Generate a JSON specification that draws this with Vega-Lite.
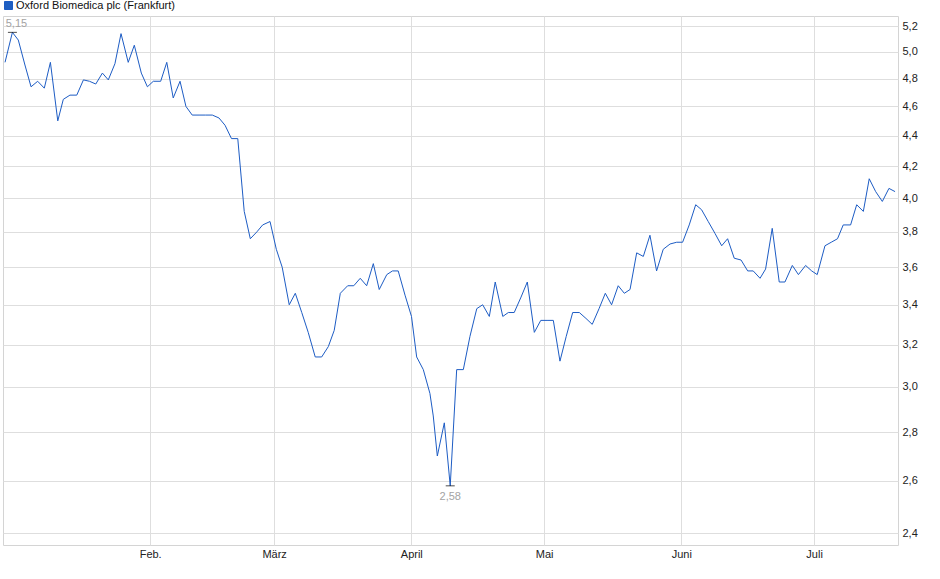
{
  "$schema": "https://vega.github.io/schema/vega-lite/v6.json",
  "width": 895,
  "height": 529,
  "autosize": {"type": "none"},
  "padding": {"left": 3, "top": 16, "right": 42, "bottom": 34},
  "background": "white",
  "config": {
    "font": "Liberation Sans",
    "view": {"stroke": "#d4d4d4", "strokeWidth": 1},
    "locale": {
      "number": {"decimal": ",", "thousands": ".", "grouping": [3], "currency": ["", " €"]}
    }
  },
  "data": {
    "values": [
      {"date": "2022-12-30T05:00", "price": 4.92},
      {"date": "2022-12-31T21:00", "price": 5.15},
      {"date": "2023-01-02T05:00", "price": 5.09},
      {"date": "2023-01-03T17:00", "price": 4.90},
      {"date": "2023-01-05T02:00", "price": 4.74},
      {"date": "2023-01-06T14:00", "price": 4.78},
      {"date": "2023-01-08T02:00", "price": 4.73},
      {"date": "2023-01-09T11:00", "price": 4.92},
      {"date": "2023-01-11T03:00", "price": 4.50},
      {"date": "2023-01-12T09:00", "price": 4.65},
      {"date": "2023-01-13T21:00", "price": 4.68},
      {"date": "2023-01-15T10:00", "price": 4.68},
      {"date": "2023-01-16T22:00", "price": 4.79},
      {"date": "2023-01-18T07:00", "price": 4.78},
      {"date": "2023-01-19T17:00", "price": 4.76},
      {"date": "2023-01-21T05:00", "price": 4.84},
      {"date": "2023-01-22T13:00", "price": 4.79},
      {"date": "2023-01-24T01:00", "price": 4.91},
      {"date": "2023-01-25T10:00", "price": 5.14},
      {"date": "2023-01-27T01:00", "price": 4.92},
      {"date": "2023-01-28T10:00", "price": 5.05},
      {"date": "2023-01-30T00:00", "price": 4.84},
      {"date": "2023-01-31T09:00", "price": 4.74},
      {"date": "2023-02-01T17:00", "price": 4.78},
      {"date": "2023-02-03T09:00", "price": 4.78},
      {"date": "2023-02-04T18:00", "price": 4.92},
      {"date": "2023-02-06T05:00", "price": 4.66},
      {"date": "2023-02-07T18:00", "price": 4.78},
      {"date": "2023-02-09T02:00", "price": 4.60},
      {"date": "2023-02-10T12:00", "price": 4.54},
      {"date": "2023-02-12T01:00", "price": 4.54},
      {"date": "2023-02-13T13:00", "price": 4.54},
      {"date": "2023-02-15T01:00", "price": 4.54},
      {"date": "2023-02-16T13:00", "price": 4.52},
      {"date": "2023-02-17T22:00", "price": 4.47},
      {"date": "2023-02-19T09:00", "price": 4.38},
      {"date": "2023-02-20T19:00", "price": 4.38},
      {"date": "2023-02-22T06:00", "price": 3.92},
      {"date": "2023-02-23T15:00", "price": 3.76},
      {"date": "2023-02-25T03:00", "price": 3.80},
      {"date": "2023-02-26T10:00", "price": 3.84},
      {"date": "2023-02-28T02:00", "price": 3.86},
      {"date": "2023-03-01T12:00", "price": 3.70},
      {"date": "2023-03-02T20:00", "price": 3.60},
      {"date": "2023-03-04T10:00", "price": 3.40},
      {"date": "2023-03-05T19:00", "price": 3.46},
      {"date": "2023-03-07T06:00", "price": 3.36},
      {"date": "2023-03-08T17:00", "price": 3.26},
      {"date": "2023-03-10T07:00", "price": 3.14},
      {"date": "2023-03-11T18:00", "price": 3.14},
      {"date": "2023-03-13T06:00", "price": 3.19},
      {"date": "2023-03-14T14:00", "price": 3.27},
      {"date": "2023-03-15T23:00", "price": 3.46},
      {"date": "2023-03-17T15:00", "price": 3.50},
      {"date": "2023-03-19T00:00", "price": 3.50},
      {"date": "2023-03-20T11:00", "price": 3.54},
      {"date": "2023-03-21T22:00", "price": 3.50},
      {"date": "2023-03-23T10:00", "price": 3.62},
      {"date": "2023-03-24T18:00", "price": 3.48},
      {"date": "2023-03-26T11:00", "price": 3.56},
      {"date": "2023-03-27T18:00", "price": 3.58},
      {"date": "2023-03-29T01:00", "price": 3.58},
      {"date": "2023-03-30T14:00", "price": 3.45},
      {"date": "2023-04-01T01:00", "price": 3.34},
      {"date": "2023-04-02T05:00", "price": 3.14},
      {"date": "2023-04-03T17:00", "price": 3.08},
      {"date": "2023-04-05T05:00", "price": 2.97},
      {"date": "2023-04-05T23:00", "price": 2.87},
      {"date": "2023-04-06T21:00", "price": 2.70},
      {"date": "2023-04-08T11:00", "price": 2.84},
      {"date": "2023-04-09T19:00", "price": 2.58},
      {"date": "2023-04-11T06:00", "price": 3.08},
      {"date": "2023-04-12T18:00", "price": 3.08},
      {"date": "2023-04-14T06:00", "price": 3.24},
      {"date": "2023-04-15T19:00", "price": 3.38},
      {"date": "2023-04-17T03:00", "price": 3.40},
      {"date": "2023-04-18T15:00", "price": 3.34},
      {"date": "2023-04-19T23:00", "price": 3.52},
      {"date": "2023-04-21T16:00", "price": 3.34},
      {"date": "2023-04-22T22:00", "price": 3.36},
      {"date": "2023-04-24T06:00", "price": 3.36},
      {"date": "2023-04-25T19:00", "price": 3.44},
      {"date": "2023-04-27T05:00", "price": 3.52},
      {"date": "2023-04-28T19:00", "price": 3.26},
      {"date": "2023-04-30T06:00", "price": 3.32},
      {"date": "2023-05-01T16:00", "price": 3.32},
      {"date": "2023-05-03T02:00", "price": 3.32},
      {"date": "2023-05-04T14:00", "price": 3.12},
      {"date": "2023-05-06T00:00", "price": 3.24},
      {"date": "2023-05-07T11:00", "price": 3.36},
      {"date": "2023-05-08T23:00", "price": 3.36},
      {"date": "2023-05-10T11:00", "price": 3.33},
      {"date": "2023-05-11T21:00", "price": 3.30},
      {"date": "2023-05-13T10:00", "price": 3.38},
      {"date": "2023-05-14T20:00", "price": 3.46},
      {"date": "2023-05-16T06:00", "price": 3.40},
      {"date": "2023-05-17T18:00", "price": 3.50},
      {"date": "2023-05-19T03:00", "price": 3.46},
      {"date": "2023-05-20T10:00", "price": 3.48},
      {"date": "2023-05-21T22:00", "price": 3.68},
      {"date": "2023-05-23T10:00", "price": 3.66},
      {"date": "2023-05-24T22:00", "price": 3.78},
      {"date": "2023-05-26T10:00", "price": 3.58},
      {"date": "2023-05-27T22:00", "price": 3.70},
      {"date": "2023-05-29T11:00", "price": 3.73},
      {"date": "2023-05-30T23:00", "price": 3.74},
      {"date": "2023-06-01T07:00", "price": 3.74},
      {"date": "2023-06-02T19:00", "price": 3.84},
      {"date": "2023-06-04T06:00", "price": 3.96},
      {"date": "2023-06-05T14:00", "price": 3.93},
      {"date": "2023-06-07T02:00", "price": 3.86},
      {"date": "2023-06-08T15:00", "price": 3.79},
      {"date": "2023-06-10T03:00", "price": 3.72},
      {"date": "2023-06-11T11:00", "price": 3.76},
      {"date": "2023-06-12T23:00", "price": 3.65},
      {"date": "2023-06-14T12:00", "price": 3.64},
      {"date": "2023-06-16T00:00", "price": 3.58},
      {"date": "2023-06-17T06:00", "price": 3.58},
      {"date": "2023-06-18T19:00", "price": 3.54},
      {"date": "2023-06-20T01:00", "price": 3.59},
      {"date": "2023-06-21T13:00", "price": 3.82},
      {"date": "2023-06-23T03:00", "price": 3.52},
      {"date": "2023-06-24T10:00", "price": 3.52},
      {"date": "2023-06-26T02:00", "price": 3.61},
      {"date": "2023-06-27T11:00", "price": 3.56},
      {"date": "2023-06-29T02:00", "price": 3.61},
      {"date": "2023-06-30T11:00", "price": 3.58},
      {"date": "2023-07-01T17:00", "price": 3.56},
      {"date": "2023-07-03T11:00", "price": 3.72},
      {"date": "2023-07-04T21:00", "price": 3.74},
      {"date": "2023-07-06T07:00", "price": 3.76},
      {"date": "2023-07-07T14:00", "price": 3.84},
      {"date": "2023-07-09T06:00", "price": 3.84},
      {"date": "2023-07-10T15:00", "price": 3.96},
      {"date": "2023-07-12T03:00", "price": 3.92},
      {"date": "2023-07-13T11:00", "price": 4.12},
      {"date": "2023-07-14T22:00", "price": 4.04},
      {"date": "2023-07-16T10:00", "price": 3.98},
      {"date": "2023-07-17T22:00", "price": 4.06},
      {"date": "2023-07-19T07:00", "price": 4.04}
    ]
  },
  "encoding": {
    "x": {
      "field": "date",
      "type": "temporal",
      "scale": {"domain": ["2022-12-29T18:00", "2023-07-19T23:00"]},
      "axis": {
        "title": null,
        "orient": "bottom",
        "values": [
          {"year": 2023, "month": 2, "date": 1},
          {"year": 2023, "month": 3, "date": 1},
          {"year": 2023, "month": 4, "date": 1},
          {"year": 2023, "month": 5, "date": 1},
          {"year": 2023, "month": 6, "date": 1},
          {"year": 2023, "month": 7, "date": 1}
        ],
        "labelExpr": "['Jan.','Feb.','März','April','Mai','Juni','Juli','Aug.','Sep.','Okt.','Nov.','Dez.'][month(datum.value)]",
        "grid": true,
        "gridColor": "#dedede",
        "gridWidth": 1,
        "ticks": false,
        "domain": false,
        "labelPadding": 3,
        "labelFontSize": 11,
        "labelColor": "#222",
        "labelFont": "Liberation Sans",
        "labelFlush": false,
        "labelOverlap": false
      }
    },
    "y": {
      "field": "price",
      "type": "quantitative",
      "scale": {"type": "log", "domain": [2.3575, 5.28], "nice": false, "zero": false},
      "axis": {
        "title": null,
        "orient": "right",
        "values": [2.4, 2.6, 2.8, 3.0, 3.2, 3.4, 3.6, 3.8, 4.0, 4.2, 4.4, 4.6, 4.8, 5.0, 5.2],
        "format": ".1f",
        "grid": true,
        "gridColor": "#dedede",
        "gridWidth": 1,
        "ticks": false,
        "domain": false,
        "labelPadding": 4,
        "labelFontSize": 11,
        "labelColor": "#222",
        "labelFont": "Liberation Sans",
        "labelFlush": false,
        "labelOverlap": false
      }
    }
  },
  "layer": [
    {
      "mark": {"type": "line", "strokeWidth": 1, "interpolate": "linear"},
      "encoding": {
        "color": {
          "datum": "Oxford Biomedica plc (Frankfurt)",
          "type": "nominal",
          "scale": {"range": ["#1d5cc4"]},
          "legend": {
            "title": null,
            "orient": "none",
            "legendX": 0,
            "legendY": -16,
            "padding": 0,
            "symbolType": "square",
            "symbolSize": 64,
            "symbolFillColor": "#1f5fc2",
            "symbolStrokeColor": "#0b2660",
            "symbolStrokeWidth": 1,
            "symbolOpacity": 1,
            "labelFontSize": 11,
            "labelFont": "Liberation Sans",
            "labelColor": "#111",
            "labelOffset": 2
          }
        }
      }
    },
    {
      "transform": [{"filter": "datum.price == 5.15 || datum.price == 2.58"}],
      "mark": {"type": "tick", "orient": "horizontal", "size": 9, "thickness": 1, "color": "#000"}
    },
    {
      "transform": [{"filter": "datum.price == 5.15"}],
      "mark": {"type": "text", "dy": -5, "dx": 4, "baseline": "alphabetic", "align": "center", "fontSize": 11, "color": "#a3a3a3", "font": "Liberation Sans"},
      "encoding": {"text": {"field": "price", "type": "quantitative", "format": ".2f"}}
    },
    {
      "transform": [{"filter": "datum.price == 2.58"}],
      "mark": {"type": "text", "dy": 14, "baseline": "alphabetic", "align": "center", "fontSize": 11, "color": "#a3a3a3", "font": "Liberation Sans"},
      "encoding": {"text": {"field": "price", "type": "quantitative", "format": ".2f"}}
    }
  ]
}
